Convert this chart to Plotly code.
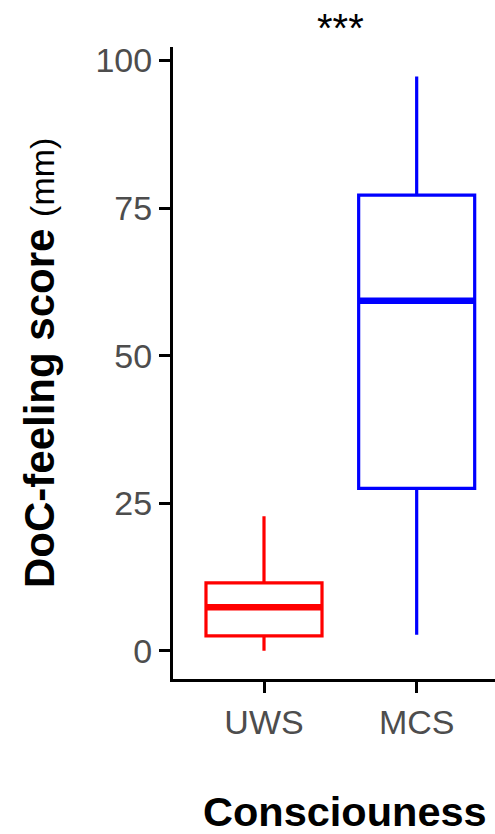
import plotly.graph_objects as go

categories = ["UWS", "MCS"]
colors = ["#FF0000", "#0000FF"]
lower_whisker = [0.0, 2.7]
q1_vals = [2.5, 27.5]
medians = [7.35, 59.3]
q3_vals = [11.5, 77.2]
upper_whisker = [22.8, 97.3]
y_ticks = [0, 25, 50, 75, 100]
signif_label = "***"

box_width = 0.76
xpos = [1, 2]

fig = go.Figure()
for i, cat in enumerate(categories):
    fig.add_trace(go.Box(
        x=[xpos[i]], q1=[q1_vals[i]], median=[medians[i]], q3=[q3_vals[i]],
        lowerfence=[lower_whisker[i]], upperfence=[upper_whisker[i]],
        width=box_width, whiskerwidth=0, boxpoints=False,
        line=dict(color=colors[i], width=3.2), fillcolor="white",
        name=cat, showlegend=False, hoverinfo="skip",
    ))
    fig.add_trace(go.Scatter(
        x=[xpos[i] - box_width / 2, xpos[i] + box_width / 2],
        y=[medians[i], medians[i]], mode="lines",
        line=dict(color=colors[i], width=6.4), showlegend=False, hoverinfo="skip",
    ))

FONT = "Liberation Sans, Arial, sans-serif"
axis_font = dict(family=FONT, size=34, color="#4D4D4D")

fig.update_layout(
    width=495, height=834,
    margin=dict(l=173, r=0, t=47, b=155),
    paper_bgcolor="white", plot_bgcolor="white",
    font=dict(family=FONT),
    xaxis=dict(
        range=[0.404, 2.513], tickmode="array", tickvals=xpos, ticktext=categories,
        showgrid=False, zeroline=False, showline=True, linecolor="black", linewidth=3,
        ticks="outside", ticklen=11, tickwidth=2.7, tickcolor="black",
        tickfont=axis_font,
    ),
    yaxis=dict(
        range=[-4.8, 102.3], tickmode="array", tickvals=y_ticks,
        showgrid=False, zeroline=False, showline=True, linecolor="black", linewidth=3,
        ticks="outside", ticklen=11, tickwidth=2.7, tickcolor="black",
        tickfont=axis_font,
    ),
    annotations=[
        dict(text="<b>Consciouness</b>", xref="paper", yref="paper",
             x=(345 - 173) / 322, y=-(811 - 679) / 632, xanchor="center", yanchor="middle",
             showarrow=False, font=dict(size=41.5, color="black", family=FONT)),
        dict(text="<b>DoC-feeling score</b> <span style='font-size:34px'>(mm)</span>",
             xref="paper", yref="paper", x=(39 - 173) / 322, y=0.5, textangle=-90,
             xanchor="center", yanchor="middle", showarrow=False,
             font=dict(size=42, color="black", family=FONT)),
        dict(text=signif_label, xref="x", yref="paper", x=1.5, y=(679 - 28) / 632,
             xanchor="center", yanchor="middle", showarrow=False,
             font=dict(size=40, color="black", family=FONT)),
    ],
)

fig.write_html("out.html", config={"displayModeBar": False},
               post_script="document.body.style.margin='0';")
